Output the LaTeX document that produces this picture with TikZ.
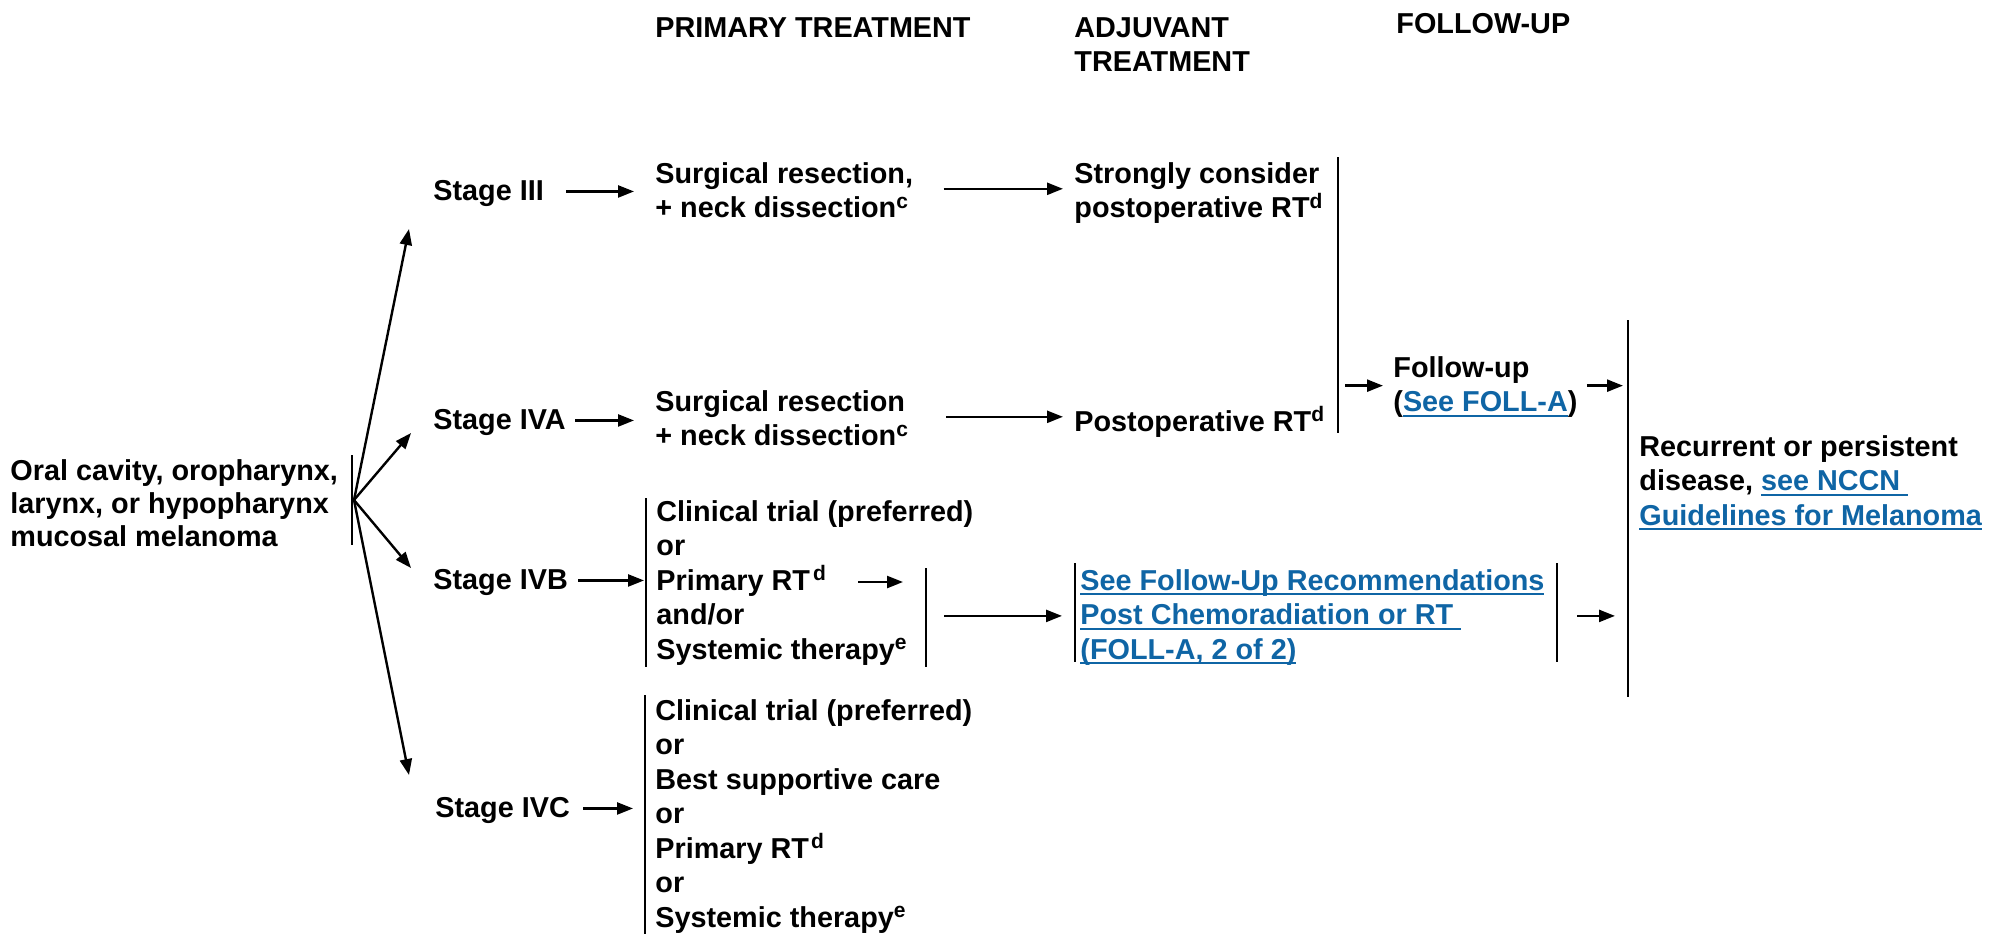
\documentclass[tikz,border=0pt]{standalone}
\usepackage{fontspec}
\setmainfont{Liberation Sans}
\usetikzlibrary{arrows.meta,calc}
\definecolor{linkblue}{HTML}{0F65A5}
% body text: bold sans, fixed line pitch
\newcommand\bodyfont{\fontsize{14.4pt}{17.25pt}\selectfont\bfseries}
% fixed first-line height so node tops sit a known distance above the first baseline
\newcommand\tp{\rule{0pt}{12pt}}
% footnote letter
\newcommand\fnm[1]{\raisebox{4.8pt}{\fontsize{10.5pt}{10.5pt}\selectfont #1}}
% underlined hyperlink-style text (keeps trailing spaces under the rule)
\newcommand\lnk[1]{{\color{linkblue}\setbox0\hbox{#1}\rlap{\rule[-2.4pt]{\wd0}{0.9pt}}\box0}}
\begin{document}
\begin{tikzpicture}[x=0.5pt,y=-0.5pt,
  tx/.style={anchor=north west,inner sep=0pt,align=left,font=\bodyfont},
  arr/.style={line width=1.2pt,-{Triangle[length=8pt,width=6pt]}},
  bar/.style={line width=1.2pt}]
\useasboundingbox (0,0) rectangle (2003,934);

% column headings
\node[tx] (hp) at (655,13) {\tp PRIMARY TREATMENT};
\node[tx] (ha) at (1074,13) {\tp ADJUVANT\\TREATMENT};
\node[tx] (hf) at (1396,9) {\tp FOLLOW-UP};

% site of disease
\node[tx,font=\fontsize{14.4pt}{16.4pt}\selectfont\bfseries] (site) at (10,456)
  {\tp Oral cavity, oropharynx,\\larynx, or hypopharynx\\mucosal melanoma};
\coordinate (sb-top) at (352,455);
\coordinate (sb-bot) at (352,545);
\draw[bar] (sb-top) -- (sb-bot);
\coordinate (fan) at (354,500);

% stages
\node[tx] (s3)  at (433,176) {\tp Stage III};
\node[tx] (s4a) at (433,405) {\tp Stage IVA};
\node[tx] (s4b) at (433,565) {\tp Stage IVB};
\node[tx] (s4c) at (435,793) {\tp Stage IVC};

\coordinate (in3)  at (409,229);
\coordinate (in4a) at (411,433);
\coordinate (in4b) at (411,568);
\coordinate (in4c) at (409,775);
\draw[arr] (fan) -- (in3);
\draw[arr] (fan) -- (in4a);
\draw[arr] (fan) -- (in4b);
\draw[arr] (fan) -- (in4c);

% primary treatment
\node[tx] (p3)  at (655,159) {\tp Surgical resection,\\+ neck dissection\fnm{c}};
\node[tx] (p4a) at (655,387) {\tp Surgical resection\\+ neck dissection\fnm{c}};
\node[tx] (p4b) at (656,497) {\tp Clinical trial (preferred)\\or\\Primary RT\kern1.5pt\fnm{d}\\and/or\\Systemic therapy\fnm{e}};
\node[tx] (p4c) at (655,696) {\tp Clinical trial (preferred)\\or\\Best supportive care\\or\\Primary RT\kern1pt\fnm{d}\\or\\Systemic therapy\fnm{e}};

\coordinate (pb-top) at (646,498);
\coordinate (pb-bot) at (646,667);
\draw[bar] (pb-top) -- (pb-bot);
\coordinate (cb-top) at (645,695);
\coordinate (cb-bot) at (645,934);
\draw[bar] (cb-top) -- (cb-bot);

\draw[arr,shorten <=11pt,shorten >=10.5pt] (s3.east) -- (s3.east -| p3.west);
\draw[arr,shorten <=4.5pt,shorten >=10.5pt] (s4a.east) -- (s4a.east -| p4a.west);
\draw[arr,shorten <=5pt,shorten >=1pt] (s4b.east) -- (s4b.east -| pb-top);
\draw[arr,shorten <=6.5pt,shorten >=6pt] (s4c.east) -- (s4c.east -| cb-top);

% adjuvant treatment
\node[tx] (a3)  at (1074,159) {\tp Strongly consider\\postoperative RT\fnm{d}};
\node[tx] (a4a) at (1074,406) {\tp Postoperative RT\fnm{d}};

\draw[arr,shorten <=15pt,shorten >=5.5pt] (p3.east) -- (p3.east -| a3.west);
\draw[arr,shorten <=19pt,shorten >=5.5pt] (p4a.east) -- (p4a.east -| a4a.west);

% radiotherapy / systemic branch
\coordinate (rtout) at (858,582);
\coordinate (b2-top) at (926,568);
\coordinate (b2-bot) at (926,667);
\draw[bar] (b2-top) -- (b2-bot);
\draw[arr,shorten >=11.5pt] (rtout) -- (rtout -| b2-top);

\node[tx] (lk) at (1080,566) {\tp\lnk{See Follow-Up Recommendations}\\\lnk{Post Chemoradiation or RT }\\\lnk{(FOLL-A, 2 of 2)}};
\coordinate (b3-top) at (1075,563);
\coordinate (b3-bot) at (1075,662);
\draw[bar] (b3-top) -- (b3-bot);
\coordinate (b4-top) at (1557,563);
\coordinate (b4-bot) at (1557,662);
\draw[bar] (b4-top) -- (b4-bot);
\draw[arr,shorten <=9pt,shorten >=9pt] (lk.west -| b2-top) -- (lk.west);

% follow-up
\coordinate (fb-top) at (1338,157);
\coordinate (fb-bot) at (1338,433);
\draw[bar] (fb-top) -- (fb-bot);
\node[tx] (fu) at (1393,353) {\tp Follow-up\\(\lnk{See FOLL-A})};
\draw[arr,shorten <=3.5pt,shorten >=5pt] (fu.west -| fb-top) -- (fu.west);

% recurrence
\coordinate (rb-top) at (1628,320);
\coordinate (rb-bot) at (1628,697);
\draw[bar] (rb-top) -- (rb-bot);
\node[tx] (rec) at (1639,432) {\tp Recurrent or persistent\\disease, \lnk{see NCCN }\\\lnk{Guidelines for Melanoma}};

\draw[arr,shorten <=4.5pt,shorten >=2.5pt] (fu.east) -- (fu.east -| rb-top);
\draw[arr,shorten <=10pt,shorten >=6.5pt] (lk.east -| b4-top) -- (lk.east -| rb-top);
\end{tikzpicture}
\end{document}
